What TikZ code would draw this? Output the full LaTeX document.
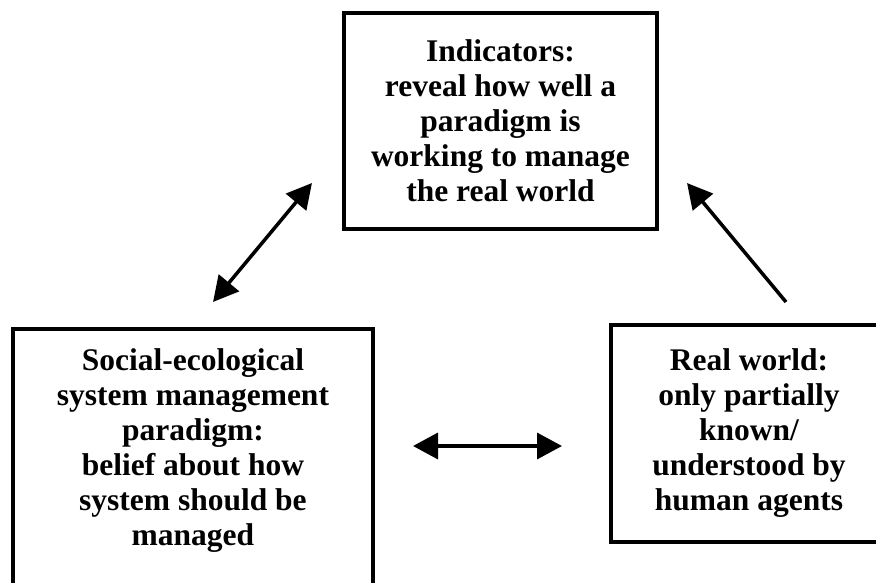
\documentclass[tikz,border=0pt]{standalone}
\usepackage{fontspec}
\setmainfont{Liberation Serif}
\usetikzlibrary{arrows.meta}
\begin{document}
\begin{tikzpicture}[x=1pt,y=-1pt,
  box/.style={draw=black, line width=3.5pt, inner sep=0pt, align=center,
    font=\fontsize{31.5}{35}\selectfont\bfseries},
  txt/.style={inner sep=0pt, align=center, font=\fontsize{31.5}{35}\selectfont\bfseries},
  link/.style={line width=3.5pt, {Triangle[length=25pt,width=26pt]}-{Triangle[length=25pt,width=26pt]}},
  onelink/.style={line width=3.5pt, -{Triangle[length=25pt,width=26pt]}}]
\useasboundingbox (0,0) rectangle (876,583);
\clip (0,0) rectangle (876,583);
\fill[white] (0,0) rectangle (876,583);
% top box
\node[box, minimum width=313pt, minimum height=216pt] (ind) at (500.5,121)
  {Indicators:\\reveal how well a\\paradigm is\\working to manage\\the real world};
% left box (bottom edge lies outside the picture)
\node[box, minimum width=360pt, minimum height=300pt, anchor=north] (soc) at (193,327) {};
\node[txt] (soctext) at (193,450.5)
  {Social-ecological\\system management\\paradigm:\\belief about how\\system should be\\managed};
% right box (right edge lies outside the picture)
\node[box, minimum width=276pt, minimum height=217pt] (real) at (749,433.5)
  {Real world:\\only partially\\known/\\understood by\\human agents};
% arrow end points
\coordinate (a1) at (213,302);
\coordinate (a2) at (312,183);
\coordinate (b1) at (786,302);
\coordinate (b2) at (687,183);
\coordinate (c1) at (413,446);
\coordinate (c2) at (562,446);
\draw[link] (a1) -- (a2);
\draw[onelink] (b1) -- (b2);
\draw[link] (c1) -- (c2);
\end{tikzpicture}
\end{document}
